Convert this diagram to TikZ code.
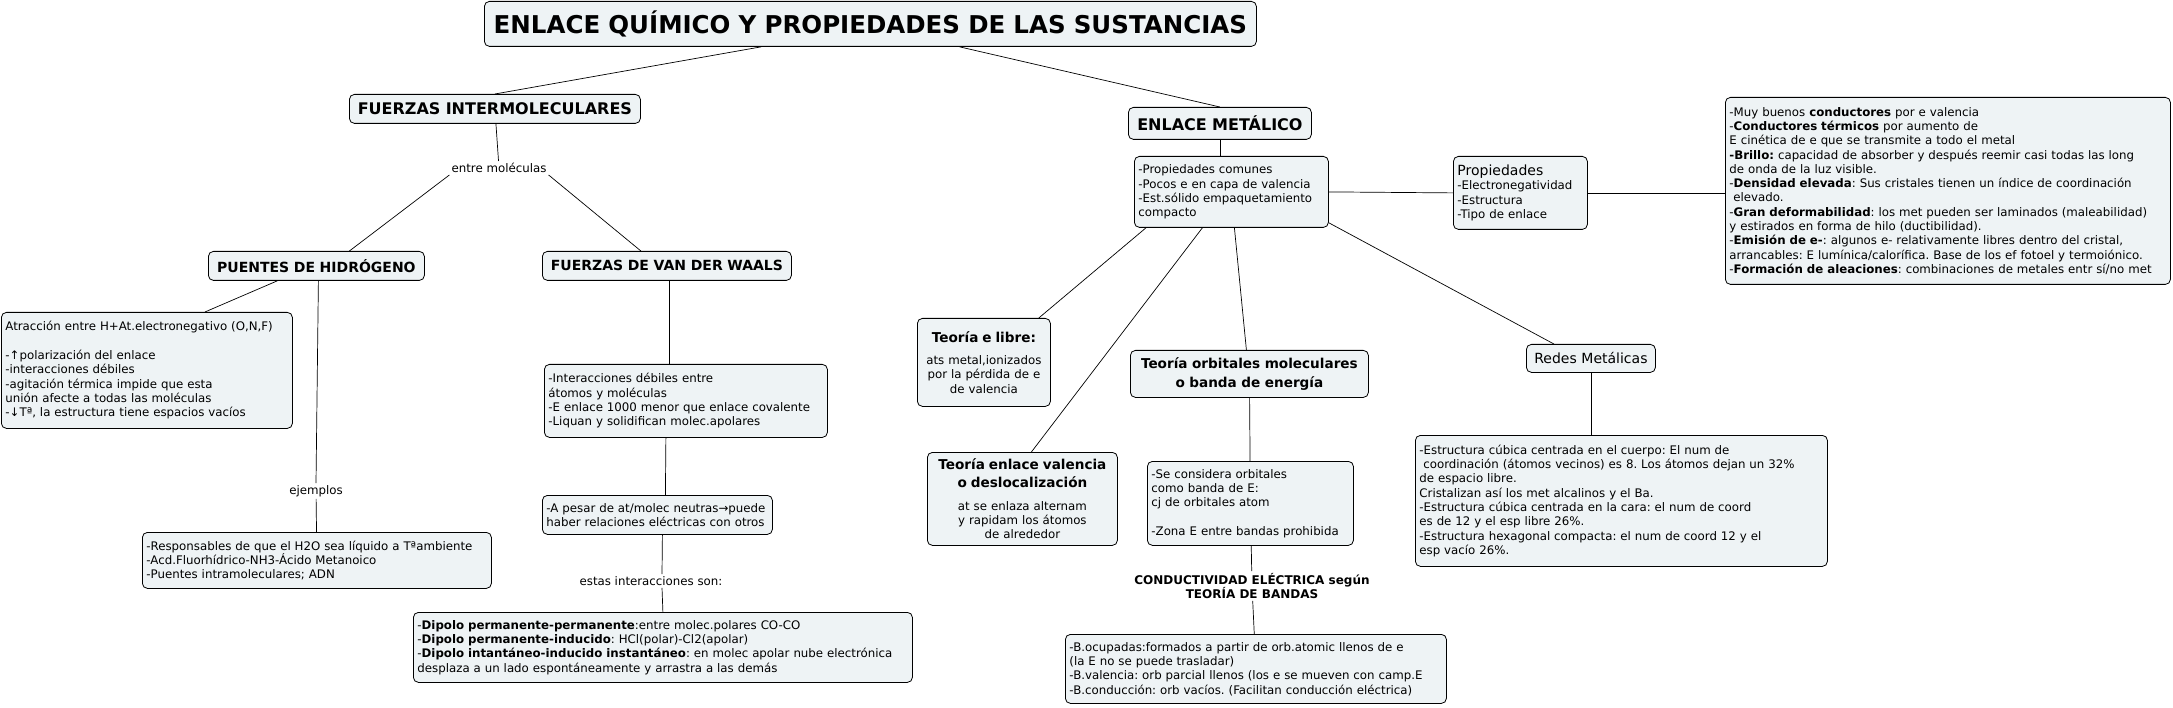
\documentclass[tikz,border=0pt]{standalone}
\usepackage{fontspec}
\setmainfont{DejaVu Sans}
\usepackage{tikz}
\usetikzlibrary{positioning}
\definecolor{boxfill}{HTML}{EEF3F5}
\newcommand{\bigbf}{\bfseries\fontsize{13.6}{18.5}\selectfont}
\newcommand{\headbf}{\bfseries\fontsize{14}{16}\selectfont}

\begin{document}
\frenchspacing
\begin{tikzpicture}[x=1pt,y=-1pt,
box/.style={draw, rounded corners=5pt, fill=boxfill, line width=0.8pt,
anchor=north west, inner xsep=4pt, inner ysep=2pt, align=left,
font=\fontsize{11.8}{14.3}\selectfont},
head/.style={box, align=center, font=\headbf},
lbl/.style={font=\fontsize{11.8}{14.3}\selectfont, inner sep=2pt, align=center},
line/.style={draw, line width=0.7pt}]
\path [use as bounding box, fill=white] (0,0) rectangle (2173,708);
%% Title and main branches
\node [head, text width=764, minimum height=45, font=\bfseries\fontsize{24.5}{29}\selectfont] (title) at (484,1) {ENLACE QUÍMICO Y PROPIEDADES DE LAS SUSTANCIAS};
\node [head, text width=283, minimum height=29, font=\bfseries\fontsize{16}{18}\selectfont] (fi) at (349,94) {FUERZAS INTERMOLECULARES};
\node [head, text width=175, minimum height=32, font=\bfseries\fontsize{16}{18}\selectfont] (em) at (1128,107) {ENLACE METÁLICO};
%% Intermolecular side
\node [lbl] (entre) at (499,168) {entre moléculas};
\node [head, text width=208, minimum height=29] (ph) at (208,251) {PUENTES DE HIDRÓGENO};
\node [head, text width=241, minimum height=29] (vdw) at (542,251) {FUERZAS DE VAN DER WAALS};
\node [box, text width=283, minimum height=116] (atr) at (1,312) {Atracción entre H+At.electronegativo (O,N,F)\\[14.3pt]
-↑polarización del enlace\\
-interacciones débiles\\
-agitación térmica impide que esta\\
unión afecte a todas las moléculas\\
-↓Tª, la estructura tiene espacios vacíos};
\node [lbl] (ejemplos) at (316,491) {ejemplos};
\node [box, text width=341, minimum height=56] (resp) at (142,532) {-Responsables de que el H2O sea líquido a Tªambiente\\
-Acd.Fluorhídrico-NH3-Ácido Metanoico\\
-Puentes intramoleculares; ADN};
\node [box, text width=275, minimum height=73] (inter) at (544,364) {-Interacciones débiles entre\\
átomos y moléculas\\
-E enlace 1000 menor que enlace covalente\\
-Liquan y solidifican molec.apolares};
\node [box, text width=222, minimum height=39] (apesar) at (542,495) {-A pesar de at/molec neutras→puede\\
haber relaciones eléctricas con otros};
\node [lbl] (estas) at (651,581) {estas interacciones son:};
\node [box, text width=491, minimum height=70] (dipolo) at (413,612) {-\textbf{Dipolo permanente-permanente}:entre molec.polares CO-CO\\
-\textbf{Dipolo permanente-inducido}: HCl(polar)-Cl2(apolar)\\
-\textbf{Dipolo intantáneo-inducido instantáneo}: en molec apolar nube electrónica\\
desplaza a un lado espontáneamente y arrastra a las demás};
%% Metallic side
\node [box, text width=186, minimum height=71] (pc) at (1134,156) {-Propiedades comunes\\
-Pocos e en capa de valencia\\
-Est.sólido empaquetamiento\\
compacto};
\node [box, align=center, text width=125, minimum height=88] (tel) at (917,318) {{\bigbf Teoría e libre:}\\[8pt]
ats metal,ionizados\\por la pérdida de e\\de valencia};
\node [head, text width=230, minimum height=47, font=\bigbf] (tom) at (1130,350) {Teoría orbitales moleculares\\o banda de energía};
\node [box, align=center, text width=182, minimum height=93] (tev) at (927,452) {{\bigbf Teoría enlace valencia}\\[4pt]
{\bigbf o deslocalización}\\[8pt]
at se enlaza alternam\\y rapidam los átomos\\de alrededor};
\node [box, text width=198, minimum height=84] (sec) at (1147,461) {-Se considera orbitales\\
como banda de E:\\
cj de orbitales atom\\[14.3pt]
-Zona E entre bandas prohibida};
\node [lbl, font=\bfseries\fontsize{12}{14}\selectfont] (cond) at (1252,586) {CONDUCTIVIDAD ELÉCTRICA según\\TEORÍA DE BANDAS};
\node [box, text width=373, minimum height=69] (bocu) at (1065,634) {-B.ocupadas:formados a partir de orb.atomic llenos de e\\
(la E no se puede trasladar)\\
-B.valencia: orb parcial llenos (los e se mueven con camp.E\\
-B.conducción: orb vacíos. (Facilitan conducción eléctrica)};
\node [box, text width=126, minimum height=73] (prop) at (1453,156) {{\fontsize{14}{16}\selectfont Propiedades}\\
-Electronegatividad\\
-Estructura\\
-Tipo de enlace};
\node [box, text width=437, minimum height=187] (big) at (1725,97) {-Muy buenos \textbf{conductores} por e valencia\\
-\textbf{Conductores térmicos} por aumento de\\
E cinética de e que se transmite a todo el metal\\
\textbf{-Brillo:} capacidad de absorber y después reemir casi todas las long\\
de onda de la luz visible.\\
-\textbf{Densidad elevada}: Sus cristales tienen un índice de coordinación\\
\ elevado.\\
-\textbf{Gran deformabilidad}: los met pueden ser laminados (maleabilidad)\\
y estirados en forma de hilo (ductibilidad).\\
-\textbf{Emisión de e-}: algunos e- relativamente libres dentro del cristal,\\
arrancables: E lumínica/calorífica. Base de los ef fotoel y termoiónico.\\
-\textbf{Formación de aleaciones}: combinaciones de metales entr sí/no met};
\node [box, align=center, text width=121, minimum height=28, font=\fontsize{14}{16}\selectfont] (redes) at (1526,344) {Redes Metálicas};
\node [box, text width=404, minimum height=131] (estr) at (1415,435) {-Estructura cúbica centrada en el cuerpo: El num de\\
\ coordinación (átomos vecinos) es 8. Los átomos dejan un 32\%\\
de espacio libre.\\
Cristalizan así los met alcalinos y el Ba.\\
-Estructura cúbica centrada en la cara: el num de coord\\
es de 12 y el esp libre 26\%.\\
-Estructura hexagonal compacta: el num de coord 12 y el\\
esp vacío 26\%.};
%% Links
\path [line] ([xshift=-109]title.south) -- (fi.north);
\path [line] ([xshift=89]title.south) -- (em.north);
\path [line] (fi) -- (entre);
\path [line] (entre.south west) -- ([xshift=33]ph.north);
\path [line] (entre.south east) -- ([xshift=-26]vdw.north);
\path [line] ([xshift=-39]ph.south) -- ([xshift=58]atr.north);
\path [line] ([xshift=2]ph.south) -- (ejemplos.north);
\path [line] (ejemplos) -- (resp);
\path [line] ([xshift=2]vdw.south) -- ([xshift=2]vdw.south |- inter.north);
\path [line] ([xshift=-20]inter.south) -- ([xshift=8]apesar.north);
\path [line] ([xshift=5]apesar.south) -- ([xshift=11]estas.north);
\path [line] ([xshift=11]estas.south) -- (dipolo.north);
\path [line] (em.south) -- (em.south |- pc.north);
\path [line] ([xshift=12]pc.south west) -- ([xshift=-12]tel.north east);
\path [line] ([xshift=-29]pc.south) -- ([xshift=9]tev.north);
\path [line] ([xshift=3]pc.south) -- ([xshift=-3]tom.north);
\path [line] ([yshift=5]pc.south east) -- ([xshift=-37]redes.north);
\path [line] (pc.east) -- (prop.west);
\path [line] (prop.east) -- (prop.east -| big.west);
\path [line] (tom) -- (sec);
\path [line] (sec) -- (cond);
\path [line] (cond) -- (bocu);
\path [line] (redes.south) -- (redes.south |- estr.north);
\end{tikzpicture}
\end{document}
